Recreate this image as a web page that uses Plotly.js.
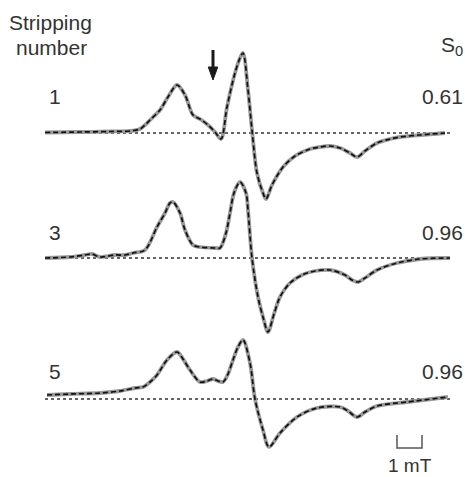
<!DOCTYPE html>
<html>
<head>
<meta charset="utf-8">
<script src="https://cdn.plot.ly/plotly-3.0.1.min.js"></script>
<style>
html,body{margin:0;padding:0;background:#fff;}
#chart{width:465px;height:477px;}
</style>
</head>
<body>
<div id="chart"></div>
<script>
// Magnetic field (mT, relative) and EPR intensity (arb. units) for each stripping number
const strippingNumbers = ["1", "3", "5"];
const s0Values = ["0.61", "0.96", "0.96"];

const field1 = [0, 1.4, 2.6, 3.4, 3.8, 4.0, 4.2, 4.6, 4.92, 5.28, 5.6, 5.92, 6.2, 6.52, 6.8, 7.04, 7.28, 7.6, 7.8, 7.92, 8.12, 8.28, 8.48, 8.72, 8.84, 9.08, 9.52, 10.0, 10.6, 11.0, 11.4, 11.8, 12.2, 12.48, 12.8, 13.28, 13.8, 14.2, 15.0, 16.0];
const signal1 = [0.5, 1, 1.5, 2, 4, 8, 13, 23, 36, 48, 38, 18, 14, 8, 1, -6, 26, 60, 75, 80, 43, 3, -40, -60, -66, -52, -34, -23, -16, -14, -13, -15, -20, -24, -18, -10, -6, -4, -2, 0];

const field3 = [0, 1.0, 1.6, 1.88, 2.2, 2.8, 3.2, 3.52, 4.0, 4.48, 4.8, 5.0, 5.12, 5.4, 5.6, 5.92, 6.2, 6.8, 7.0, 7.24, 7.4, 7.56, 7.8, 8.04, 8.12, 8.28, 8.52, 8.72, 8.92, 9.16, 9.4, 9.8, 10.28, 10.8, 11.4, 12.0, 12.28, 12.52, 12.8, 13.28, 14.08, 15.0, 16.2];
const signal3 = [0, 1, 3, 4, 1, 3, 3, 5, 8, 31, 45, 55, 56, 45, 28, 13, 11, 10, 10, 25, 45, 65, 76, 65, 48, 0, -39, -59, -74, -56, -39, -25, -17, -13, -12, -17, -22, -24, -20, -12, -5, -1, 0];

const field5 = [0.08, 1.0, 2.2, 3.0, 3.6, 3.92, 4.2, 4.48, 4.88, 5.28, 5.52, 5.8, 6.2, 6.48, 6.72, 6.92, 7.12, 7.32, 7.52, 7.72, 7.92, 8.2, 8.4, 8.72, 8.96, 9.4, 10.08, 10.88, 11.8, 12.12, 12.48, 12.8, 13.28, 14.48, 16.12];
const signal5 = [4, 5, 6, 8, 11, 12, 17, 24, 39, 47, 40, 29, 17, 18, 20, 18, 17, 25, 39, 52, 59, 36, 0, -31, -48, -34, -18, -9, -8, -12, -18, -13, -7, -3, 2];

const fields = [field1, field3, field5];
const signals = [signal1, signal3, signal5];
const offsets = [344, 219, 78];
const baselineField = [0, 16.28];
const scaleBarStart = 14.08; // mT
const scaleBarLength = 1;    // 1 mT
const arrowField = 6.72;     // position of the marked feature (mT)

const traces = [];
for (let i = 0; i < 3; i++) {
  traces.push({
    x: baselineField, y: [offsets[i], offsets[i]], mode: 'lines',
    line: {color: '#333', width: 1.3, dash: '3px,3px'}, hoverinfo: 'skip'
  });
  const ys = signals[i].map(v => v + offsets[i]);
  traces.push({
    x: fields[i], y: ys, mode: 'lines',
    line: {color: '#999', width: 3.8, shape: 'spline', smoothing: 0.9}, hoverinfo: 'skip'
  });
  traces.push({
    x: fields[i], y: ys, mode: 'lines',
    line: {color: '#111', width: 1.7, shape: 'spline', smoothing: 0.9, dash: '5px,3px'}, hoverinfo: 'skip'
  });
}

const font = {family: 'Liberation Sans, Arial, sans-serif', size: 21, color: '#333'};
const labelY = [381, 245, 106];
const annotations = [
  {xref: 'paper', yref: 'paper', x: 7/465, y: 1 - 23/477, xanchor: 'left', yanchor: 'middle', text: 'Stripping', showarrow: false, font: font},
  {xref: 'paper', yref: 'paper', x: 14/465, y: 1 - 47/477, xanchor: 'left', yanchor: 'middle', text: 'number', showarrow: false, font: font},
  {xref: 'paper', yref: 'paper', x: 439/465, y: 1 - 46/477, xanchor: 'left', yanchor: 'middle', text: 'S<sub>0</sub>', showarrow: false, font: font},
  {x: scaleBarStart + scaleBarLength / 2, y: 0, xref: 'x', yref: 'paper', text: '1 mT', showarrow: false, font: Object.assign({}, font, {size: 19}), yanchor: 'bottom', borderpad: 0}
];
for (let i = 0; i < 3; i++) {
  annotations.push({xref: 'paper', yref: 'y', x: 55/465, y: labelY[i], xanchor: 'center', yanchor: 'middle', text: strippingNumbers[i], showarrow: false, font: font});
  annotations.push({xref: 'paper', yref: 'y', x: 420/465, y: labelY[i], xanchor: 'left', yanchor: 'middle', text: s0Values[i], showarrow: false, font: font});
}

const layout = {
  width: 465, height: 477,
  margin: {l: 0, r: 0, t: 0, b: 0},
  paper_bgcolor: '#fff', plot_bgcolor: '#fff',
  showlegend: false,
  xaxis: {range: [-1.8, 16.8], visible: false, fixedrange: true},
  yaxis: {range: [0, 477], visible: false, fixedrange: true},
  annotations: annotations,
  shapes: [
    {
      type: 'path', xref: 'x', yref: 'y',
      path: `M ${scaleBarStart},42 L ${scaleBarStart},29 L ${scaleBarStart + scaleBarLength},29 L ${scaleBarStart + scaleBarLength},42`,
      line: {color: '#555', width: 1.5}
    },
    {type: 'line', xref: 'x', yref: 'y', x0: arrowField, x1: arrowField, y0: 427, y1: 406, line: {color: '#1a1a1a', width: 3}},
    {
      type: 'path', xref: 'x', yref: 'y',
      path: `M ${arrowField - 0.19},410 L ${arrowField + 0.19},410 L ${arrowField},397 Z`,
      fillcolor: '#1a1a1a', line: {color: '#1a1a1a', width: 1}
    }
  ]
};

Plotly.newPlot('chart', traces, layout, {staticPlot: true, displayModeBar: false});
</script>
</body>
</html>
